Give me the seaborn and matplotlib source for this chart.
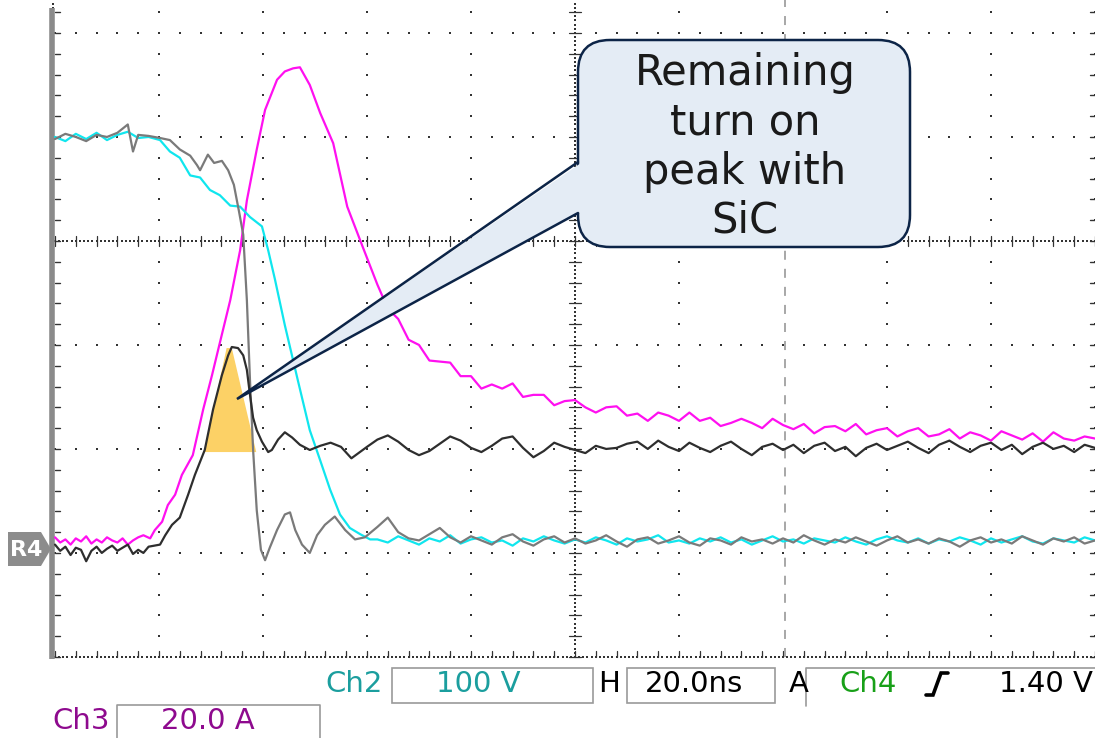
import numpy as np
import pandas as pd
import matplotlib
matplotlib.use("Agg")
import matplotlib.pyplot as plt
import seaborn as sns
from matplotlib.patches import FancyBboxPatch, Polygon

sns.set_theme(style="white")
plt.rcParams['font.family'] = ['DejaVu Sans']

# ---------------- data (time in ns, level in screen divisions) ----------------
tail_t = list(range(62, 201, 2))

cyan_t = [0, 2, 4, 6, 8, 10, 12, 14, 16, 18, 20.2, 22.1, 24.0, 26.0, 27.9, 29.8, 31.7, 33.7,
          35.6, 37.5, 39.8, 41.0, 42.3, 44.2, 46.7, 49.0, 51.0, 52.9, 54.8, 56.7, 58.7, 60.6]
cyan_v = [5.00, 4.96, 5.03, 4.98, 5.04, 4.97, 5.02, 5.05, 4.99, 5.00, 4.97, 4.86, 4.80, 4.63,
          4.61, 4.49, 4.44, 4.34, 4.33, 4.23, 4.14, 3.91, 3.63, 3.19, 2.66, 2.18, 1.89, 1.61,
          1.37, 1.24, 1.18, 1.13]
cyan_tail = [1.13, 1.10, 1.16, 1.12, 1.08, 1.14, 1.11, 1.17, 1.09, 1.13,
             1.15, 1.10, 1.12, 1.07, 1.14, 1.11, 1.16, 1.12, 1.09, 1.13,
             1.10, 1.15, 1.12, 1.08, 1.14, 1.11, 1.13, 1.17, 1.10, 1.12,
             1.09, 1.14, 1.11, 1.15, 1.10, 1.13, 1.08, 1.12, 1.16, 1.11,
             1.13, 1.09, 1.14, 1.12, 1.10, 1.15, 1.11, 1.08, 1.13, 1.16,
             1.12, 1.10, 1.14, 1.09, 1.13, 1.11, 1.15, 1.12, 1.08, 1.14,
             1.10, 1.13, 1.16, 1.11, 1.09, 1.14, 1.12, 1.10, 1.15, 1.12]

gray_t = [0, 2, 4, 6, 8, 10, 12, 14, 15, 16, 18, 20.2, 22.1, 24.0, 26.0, 27.3, 27.9, 29.4,
          30.6, 32.1, 33.3, 34.4, 35.4, 36.2, 36.9, 37.5, 38.1, 38.8, 39.6, 40.4, 41.3, 42.7,
          44.2, 45.2, 46.2, 47.5, 49.0, 50.4, 51.9, 53.8, 55.8, 57.7, 59.6]
gray_v = [4.98, 5.03, 5.00, 4.96, 5.02, 5.00, 5.04, 5.12, 4.86, 5.02, 5.01, 4.99, 4.97, 4.88,
          4.82, 4.73, 4.68, 4.83, 4.75, 4.77, 4.68, 4.54, 4.28, 4.06, 3.43, 2.66, 1.99, 1.41,
          1.03, 0.93, 1.05, 1.22, 1.37, 1.39, 1.22, 1.08, 1.00, 1.17, 1.27, 1.35, 1.22, 1.13, 1.15]
gray_tail = [1.25, 1.34, 1.20, 1.14, 1.12, 1.18, 1.24, 1.15, 1.10, 1.16,
             1.12, 1.08, 1.15, 1.18, 1.11, 1.07, 1.13, 1.16, 1.10, 1.14,
             1.09, 1.12, 1.17, 1.11, 1.06, 1.13, 1.15, 1.09, 1.12, 1.16,
             1.10, 1.07, 1.14, 1.12, 1.08, 1.15, 1.11, 1.13, 1.09, 1.14,
             1.10, 1.17, 1.12, 1.08, 1.13, 1.10, 1.15, 1.11, 1.07, 1.12,
             1.16, 1.10, 1.13, 1.09, 1.14, 1.11, 1.06, 1.12, 1.15, 1.10,
             1.13, 1.09, 1.16, 1.12, 1.08, 1.14, 1.11, 1.15, 1.09, 1.12]

dark_t = [0, 1, 2, 3, 4, 5, 6, 7, 8, 9, 10, 11, 12, 13, 14, 15, 16, 17, 18,
          20.2, 21.2, 22.5, 24.0, 25.6, 26.9, 28.8, 30.4, 32.1, 33.3, 34.0, 35.2, 36.2, 36.9,
          37.5, 38.1, 38.8, 39.8, 41.0, 41.7, 42.9, 44.2, 45.6, 47.1, 49.0, 51.0, 53.0, 55.0,
          57.0, 60.0]
dark_v = [1.08, 1.02, 1.06, 0.98, 1.05, 1.03, 0.92, 1.02, 1.06, 1.00, 1.04, 1.07, 1.02, 1.05,
          1.08, 0.99, 1.03, 1.00, 1.06,
          1.08, 1.17, 1.27, 1.34, 1.56, 1.75, 1.99, 2.38, 2.71, 2.90, 2.98, 2.97, 2.90, 2.76,
          2.52, 2.30, 2.18, 2.07, 1.97, 1.99, 2.09, 2.16, 2.11, 2.04, 1.99, 2.03, 2.06, 2.02,
          1.91, 2.02]
dark_tail = [2.09, 2.13, 2.07, 1.99, 1.94, 1.98, 2.05, 2.12, 2.08, 2.01,
             1.97, 2.03, 2.10, 2.12, 2.01, 1.92, 1.98, 2.06, 2.02, 1.99,
             1.96, 2.03, 2.00, 2.01, 2.05, 2.07, 2.00, 2.08, 2.02, 1.98,
             2.06, 2.01, 1.97, 2.03, 2.07, 2.00, 1.94, 2.02, 2.05, 1.99,
             2.04, 1.96, 2.03, 2.06, 1.98, 2.02, 1.93, 2.01, 2.05, 1.99,
             2.03, 2.07, 2.01, 1.96, 2.04, 2.08, 2.02, 1.97, 2.03, 2.06,
             1.99, 2.04, 1.95, 2.02, 2.06, 2.00, 2.03, 1.97, 2.04, 2.01]

mag_t = [0, 1, 2, 3, 4, 5, 6, 7, 8, 9, 10, 11, 12, 13, 14, 15, 16, 17,
         18.3, 19.2, 20.6, 21.7, 23.1, 24.4, 26.5, 28.5, 30.2, 31.7, 33.7, 35.6, 36.9, 38.8,
         40.4, 42.7, 44.2, 45.8, 47.1, 49.0, 51.0, 53.5, 56.2, 59.2]
mag_v = [1.15, 1.10, 1.13, 1.08, 1.14, 1.11, 1.16, 1.09, 1.13, 1.10, 1.15, 1.12, 1.10, 1.14,
         1.08, 1.12, 1.15, 1.17,
         1.14, 1.22, 1.30, 1.46, 1.56, 1.75, 1.94, 2.38, 2.71, 3.02, 3.43, 3.91, 4.39, 4.88,
         5.26, 5.55, 5.63, 5.66, 5.67, 5.50, 5.23, 4.94, 4.33, 3.94]
mag_tail = [3.58, 3.35, 3.25, 3.05, 3.00, 2.85, 2.84, 2.83, 2.70, 2.70,
            2.58, 2.62, 2.58, 2.63, 2.50, 2.52, 2.52, 2.42, 2.46, 2.47,
            2.40, 2.35, 2.40, 2.41, 2.32, 2.34, 2.27, 2.35, 2.32, 2.27,
            2.35, 2.27, 2.30, 2.22, 2.25, 2.29, 2.25, 2.20, 2.29, 2.23,
            2.19, 2.24, 2.15, 2.21, 2.22, 2.17, 2.24, 2.14, 2.18, 2.20,
            2.12, 2.17, 2.20, 2.12, 2.14, 2.19, 2.10, 2.16, 2.13, 2.08,
            2.17, 2.13, 2.09, 2.15, 2.07, 2.16, 2.10, 2.08, 2.12, 2.10]

peak_t = [28.7, 33.0, 34.0, 38.7]
peak_v = [1.97, 2.97, 2.97, 1.97]

callout_text = "Remaining\nturn on\npeak with\nSiC"

# ---------------- figure ----------------
W, H = 1095, 738
fig = plt.figure(figsize=(W / 100, H / 100), dpi=100)
fig.patch.set_facecolor("white")
ax = fig.add_axes([50 / W, (H - 659) / H, 1045 / W, 659 / H])
ax.set_xlim(-0.96, 200.0)
ax.set_ylim(-0.02, 6.317)
ax.axis("off")

# graticule
dc = "#333333"
def dots(xs, ys, s=2.2):
    ax.scatter(xs, ys, s=s, c=dc, marker="s", linewidths=0, zorder=1, clip_on=False)

ys_minor = np.arange(0, 6.32, 0.2)
ts_minor = np.arange(0, 200.1, 4)
for tc in range(20, 201, 20):
    if tc in (100, 140):
        continue
    dots(np.full(len(ys_minor), tc), ys_minor)
for yr in (1, 2, 3, 5, 6):
    dots(ts_minor, np.full(len(ts_minor), yr))
# centre lines (dense)
ts_dense = np.arange(0, 200.1, 0.8)
ys_dense = np.arange(0, 6.32, 0.04)
dots(ts_dense, np.full(len(ts_dense), 4.0), s=1.6)
dots(np.full(len(ys_dense), 100.0), ys_dense, s=1.6)
for tt in ts_minor:
    ax.plot([tt, tt], [3.95, 4.05], color=dc, lw=0.9, zorder=1)
for yy in ys_minor:
    ax.plot([98.9, 101.1], [yy, yy], color=dc, lw=0.9, zorder=1)
# bottom edge
dots(ts_dense, np.full(len(ts_dense), -0.005), s=1.6)
for tt in ts_minor:
    ax.plot([tt, tt], [-0.005, 0.06], color=dc, lw=0.9, zorder=1)
# left edge
ax.plot([-0.6, -0.6], [-0.02, 6.24], color="#8a8a8a", lw=4.0, zorder=2,
        solid_capstyle="butt", clip_on=False)
dots(np.full(len(ys_dense), -0.3), ys_dense, s=1.0)
for yy in ys_minor:
    ax.plot([0.0, 0.9], [yy, yy], color=dc, lw=1.0, zorder=1)
# right edge ticks
for yy in ys_minor:
    ax.plot([199.0, 200.0], [yy, yy], color=dc, lw=1.0, zorder=1, clip_on=False)
# trigger marker line
ax.plot([140.4, 140.4], [0, 6.32], color="#a0a0a0", lw=1.3, ls=(0, (5, 5)), zorder=1)

# highlighted peak area
ax.fill(peak_t, peak_v, color="#FCD166", lw=0, zorder=2)

# traces
lw = 1.6
sns.lineplot(x=mag_t + tail_t, y=mag_v + mag_tail, ax=ax, color="#FF10F0", lw=lw,
             estimator=None, sort=False, zorder=3)
sns.lineplot(x=cyan_t + tail_t, y=cyan_v + cyan_tail, ax=ax, color="#10E6EE", lw=lw,
             estimator=None, sort=False, zorder=4)
sns.lineplot(x=gray_t + tail_t, y=gray_v + gray_tail, ax=ax, color="#7a7a7a", lw=lw,
             estimator=None, sort=False, zorder=5)
sns.lineplot(x=dark_t + tail_t, y=dark_v + dark_tail, ax=ax, color="#2e2e2e", lw=lw,
             estimator=None, sort=False, zorder=6)
ax.set_xlim(-0.96, 200.0)
ax.set_ylim(-0.02, 6.317)

# ---------------- overlay in pixel coordinates ----------------
ov = fig.add_axes([0, 0, 1, 1], zorder=10)
ov.set_xlim(0, W)
ov.set_ylim(H, 0)
ov.axis("off")
ov.patch.set_alpha(0)

navy = "#0c2447"
fillc = "#E4ECF5"
box = FancyBboxPatch((578, 40), 332, 207, boxstyle="round,pad=0,rounding_size=32",
                     fc=fillc, ec=navy, lw=1.8)
ov.add_patch(box)
ov.add_patch(Polygon([(581, 163), (237, 399), (581, 212)], closed=True, fc=fillc, ec="none"))
ov.plot([578, 237, 578], [162, 399, 213], color=navy, lw=1.8, solid_joinstyle="miter")
ov.text(745, 147, callout_text, ha="center", va="center", fontsize=30,
        color="#1a1a1a", linespacing=1.22)

# R4 tag
ov.add_patch(Polygon([(8, 532), (41, 532), (51, 549), (41, 566), (8, 566)], closed=True,
                     fc="#8c8c8c", ec="none"))
ov.text(26, 550, "R4", ha="center", va="center", fontsize=16, color="white", fontweight="bold")

# readout area
lbl = dict(va="center", fontsize=21)
ov.text(354, 684, "Ch2", ha="center", color="#1b9e9e", **lbl)
ov.add_patch(plt.Rectangle((392, 668), 201, 35, fc="none", ec="#9a9a9a", lw=1.2))
ov.text(478, 684, "100 V", ha="center", color="#1b9e9e", **lbl)
ov.text(609, 684, "H", ha="center", color="black", **lbl)
ov.add_patch(plt.Rectangle((627, 668), 148, 35, fc="none", ec="#9a9a9a", lw=1.2))
ov.text(694, 684, "20.0ns", ha="center", color="black", **lbl)
ov.text(799, 684, "A", ha="center", color="black", **lbl)
ov.plot([806, 806, 1095], [706, 668, 668], color="#9a9a9a", lw=1.2)
ov.text(868, 684, "Ch4", ha="center", color="#18a018", **lbl)
ov.plot([926, 933, 941, 948], [695, 695, 673, 673], color="black", lw=2.6,
        solid_joinstyle="miter")
ov.text(1046, 684, "1.40 V", ha="center", color="black", **lbl)
ov.text(81, 721, "Ch3", ha="center", color="#8e0a8e", **lbl)
ov.plot([117, 117, 320, 320], [740, 705, 705, 740], color="#9a9a9a", lw=1.2)
ov.text(208, 721, "20.0 A", ha="center", color="#8e0a8e", **lbl)

fig.savefig("out.png", dpi=100, facecolor="white")
